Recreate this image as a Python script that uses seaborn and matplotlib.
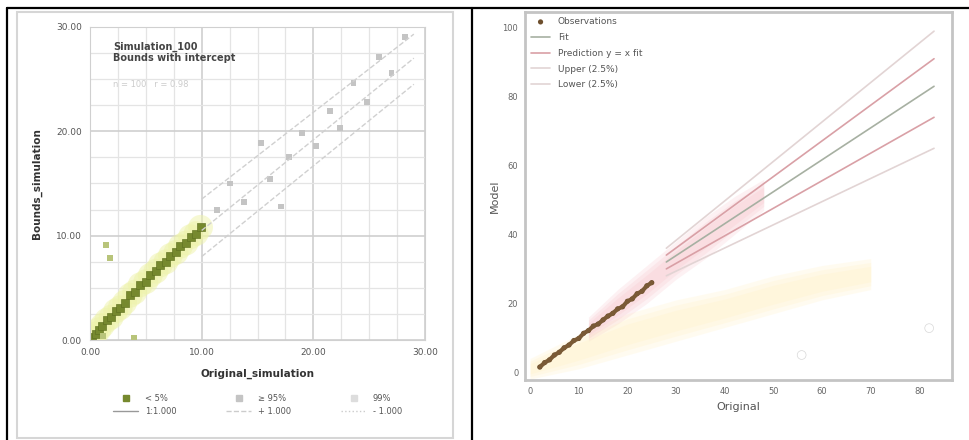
import numpy as np
import pandas as pd
import matplotlib
matplotlib.use("Agg")
import matplotlib.pyplot as plt
from matplotlib.lines import Line2D
from matplotlib.patches import Rectangle
from matplotlib.ticker import MultipleLocator
import seaborn as sns

# ---- left panel data ----
green_x = [0.2, 0.5, 0.8, 1.1, 1.5, 1.9, 2.3, 2.7, 3.1, 3.6, 4.0, 4.5, 5.0, 5.4, 5.9, 6.3, 6.8, 7.2, 7.7, 8.1, 8.6, 9.0, 9.5, 9.9]
green_y = [0.3, 0.6, 1.0, 1.4, 1.9, 2.2, 2.8, 3.1, 3.6, 4.3, 4.6, 5.3, 5.6, 6.2, 6.6, 7.2, 7.5, 8.1, 8.4, 9.0, 9.3, 9.9, 10.2, 10.8]
green_out_x = [1.4, 1.8, 1.2, 3.9]
green_out_y = [9.1, 7.9, 0.4, 0.2]
grey_x = [11.4, 12.5, 13.8, 15.3, 16.1, 17.1, 17.8, 19.0, 20.2, 21.5, 22.4, 23.6, 24.8, 25.9, 27.0, 28.2]
grey_y = [12.5, 15.0, 13.2, 18.9, 15.4, 12.8, 17.5, 19.8, 18.6, 21.9, 20.3, 24.6, 22.8, 27.1, 25.6, 29.0]
bound_x = [10.0, 29.0]
bound_hi = [13.5, 29.3]
bound_mid = [10.5, 27.0]
bound_lo = [8.0, 24.5]
left_ticks = [0, 10, 20, 30]
left_ticklabels = ["0.00", "10.00", "20.00", "30.00"]

# ---- right panel data ----
obs_x = [2, 3, 4, 5, 6, 7, 8, 9, 10, 11, 12, 13, 14, 15, 16, 17, 18, 19, 20, 21, 22, 23, 24, 25]
obs_y = [1.5, 2.8, 3.6, 5.0, 5.8, 7.1, 7.9, 9.2, 9.8, 11.3, 12.1, 13.4, 14.0, 15.2, 16.3, 17.1, 18.4, 19.0, 20.6, 21.3, 22.8, 23.5, 25.1, 26.0]
far_x = [55.8, 82.0]
far_y = [5.0, 12.8]
line_x = [28, 83]
fit_y = [32, 83]
upper_y = [34, 91]
upper2_y = [36, 99]
lower_y = [30, 74]
lower2_y = [28, 65]
yellow_x = [0, 10, 20, 30, 40, 50, 60, 70]
yellow_lo = [-2, 1, 5, 9, 13, 17, 21, 24]
yellow_hi = [4, 11, 17, 21, 24, 28, 31, 33]
pink_x = [12, 18, 24, 30, 36, 42, 48]
pink_lo = [9, 14, 20, 27, 33, 40, 47]
pink_hi = [16, 24, 31, 38, 45, 51, 56]
right_xticks = [0, 10, 20, 30, 40, 50, 60, 70, 80]
right_yticks = [0, 20, 40, 60, 80, 100]

sns.set_style("white")
plt.rcParams["font.family"] = ["DejaVu Sans"]

fig = plt.figure(figsize=(9.69, 4.40), dpi=100)

# ---------------- left panel ----------------
ax1 = fig.add_axes([0.0929, 0.227, 0.3457, 0.712])
ax1.set_xlim(0, 30)
ax1.set_ylim(0, 30)
ax1.xaxis.set_major_locator(MultipleLocator(10))
ax1.yaxis.set_major_locator(MultipleLocator(10))
ax1.xaxis.set_minor_locator(MultipleLocator(2.5))
ax1.yaxis.set_minor_locator(MultipleLocator(2.5))
ax1.grid(True, which="major", color="#cfcfcf", lw=1.2)
ax1.grid(True, which="minor", color="#e4e4e4", lw=0.9)
ax1.set_axisbelow(True)
for s in ax1.spines.values():
    s.set_color("#d0d0d0")

# glow behind green points
sns.scatterplot(x=green_x, y=green_y, ax=ax1, s=320, color="#eef3a8", edgecolor="none", alpha=0.5, legend=False)
sns.scatterplot(x=green_x, y=green_y, ax=ax1, s=30, color="#76892e", edgecolor="#5f7020", marker="s", legend=False)
sns.scatterplot(x=green_out_x, y=green_out_y, ax=ax1, s=18, color="#b8c47a", edgecolor="none", marker="s", legend=False)
sns.scatterplot(x=grey_x, y=grey_y, ax=ax1, s=18, color="#c4c4c4", edgecolor="none", marker="s", legend=False)
sns.lineplot(x=bound_x, y=bound_hi, ax=ax1, color="#d0d0d0", lw=1, linestyle="--")
sns.lineplot(x=bound_x, y=bound_mid, ax=ax1, color="#d0d0d0", lw=1, linestyle="--")
sns.lineplot(x=bound_x, y=bound_lo, ax=ax1, color="#d0d0d0", lw=1, linestyle="--")

ax1.set_xticks(left_ticks)
ax1.set_xticklabels(left_ticklabels)
ax1.set_yticks(left_ticks)
ax1.set_yticklabels(left_ticklabels)
ax1.tick_params(labelsize=6.5, colors="#555555", length=0, pad=6)
ax1.set_xlabel("Original_simulation", fontsize=7.5, fontweight="bold", color="#333333", labelpad=8)
ax1.set_ylabel("Bounds_simulation", fontsize=7.5, fontweight="bold", color="#333333", labelpad=10)
ax1.text(0.07, 0.885, "Simulation_100\nBounds with intercept", transform=ax1.transAxes,
         fontsize=7, fontweight="bold", color="#444444", va="bottom", linespacing=1.1)
ax1.text(0.07, 0.80, "n = 100   r = 0.98", transform=ax1.transAxes,
         fontsize=6, color="#cccccc", va="bottom")

handles1 = [
    Line2D([], [], marker="s", ls="none", color="#76892e", ms=4),
    Line2D([], [], color="#999999", lw=1),
    Line2D([], [], marker="s", ls="none", color="#c4c4c4", ms=4),
    Line2D([], [], color="#cccccc", lw=1, ls="--"),
    Line2D([], [], marker="s", ls="none", color="#dddddd", ms=4),
    Line2D([], [], color="#cccccc", lw=1, ls=":"),
]
labels1 = ["< 5%", "1:1.000", "≥ 95%", "+ 1.000", "99%", "- 1.000"]
ax1.legend(handles1, labels1, ncol=3, loc="upper center", bbox_to_anchor=(0.5, -0.16),
           frameon=False, fontsize=6, labelcolor="#555555", columnspacing=6, handlelength=3,
           handletextpad=0.8, borderaxespad=0)

# ---------------- right panel ----------------
ax2 = fig.add_axes([0.542, 0.136, 0.44, 0.837])
ax2.set_xlim(-1, 86.6)
ax2.set_ylim(-2.3, 104.6)
for s in ax2.spines.values():
    s.set_color("#c4c4c4")
    s.set_linewidth(2)

# soft shaded bands, layered for a blurred edge
for k in [1.0, 0.75, 0.5]:
    ymid = [(a + b) / 2 for a, b in zip(yellow_lo, yellow_hi)]
    half = [(b - a) / 2 * k for a, b in zip(yellow_lo, yellow_hi)]
    ax2.fill_between(yellow_x, [m - h for m, h in zip(ymid, half)], [m + h for m, h in zip(ymid, half)],
                     color="#fff1bf", alpha=0.22, lw=0)
    pmid = [(a + b) / 2 for a, b in zip(pink_lo, pink_hi)]
    phalf = [(b - a) / 2 * k for a, b in zip(pink_lo, pink_hi)]
    ax2.fill_between(pink_x, [m - h for m, h in zip(pmid, phalf)], [m + h for m, h in zip(pmid, phalf)],
                     color="#f6bcc3", alpha=0.2, lw=0)

sns.lineplot(x=line_x, y=upper2_y, ax=ax2, color="#e2d4d4", lw=1.2, label="Upper (2.5%)")
sns.lineplot(x=line_x, y=upper_y, ax=ax2, color="#d9a0a6", lw=1.2, label="Prediction y = x fit")
sns.lineplot(x=line_x, y=fit_y, ax=ax2, color="#a7b0a2", lw=1.2, label="Fit")
sns.lineplot(x=line_x, y=lower_y, ax=ax2, color="#d9a0a6", lw=1.2)
sns.lineplot(x=line_x, y=lower2_y, ax=ax2, color="#e2d4d4", lw=1.2, label="Lower (2.5%)")
sns.lineplot(x=obs_x, y=obs_y, ax=ax2, color="#7a5a36", lw=3)
sns.scatterplot(x=obs_x, y=obs_y, ax=ax2, s=14, color="#6d4e2d", edgecolor="none", label="Observations")
sns.scatterplot(x=far_x, y=far_y, ax=ax2, s=40, facecolor="none", edgecolor="#d8d8d8", marker="o")

ax2.set_xticks(right_xticks)
ax2.set_yticks(right_yticks)
ax2.tick_params(labelsize=6, colors="#666666", length=0, pad=5)
ax2.set_xlabel("Original", fontsize=8, color="#555555", labelpad=4)
ax2.set_ylabel("Model", fontsize=8, color="#555555", labelpad=2)

h, l = ax2.get_legend_handles_labels()
order = ["Observations", "Fit", "Prediction y = x fit", "Upper (2.5%)", "Lower (2.5%)"]
idx = [l.index(o) for o in order]
ax2.legend([h[i] for i in idx], [l[i] for i in idx], loc="upper left", frameon=False,
           fontsize=6.5, labelcolor="#555555", handlelength=2.2, borderaxespad=0.2, labelspacing=0.75)

# ---------------- table-like frame ----------------
fig.add_artist(Rectangle((0.0175, 0.005), 0.45, 0.967, transform=fig.transFigure,
                         fill=False, edgecolor="#d6d6d6", lw=1.5))
fig.add_artist(Line2D([0.007, 1.0], [0.982, 0.982], transform=fig.transFigure, color="black", lw=1.6))
fig.add_artist(Line2D([0.007, 0.007], [0.0, 0.982], transform=fig.transFigure, color="black", lw=1.6))
fig.add_artist(Line2D([0.487, 0.487], [0.0, 0.982], transform=fig.transFigure, color="black", lw=1.6))

plt.savefig("out.png", dpi=100)
